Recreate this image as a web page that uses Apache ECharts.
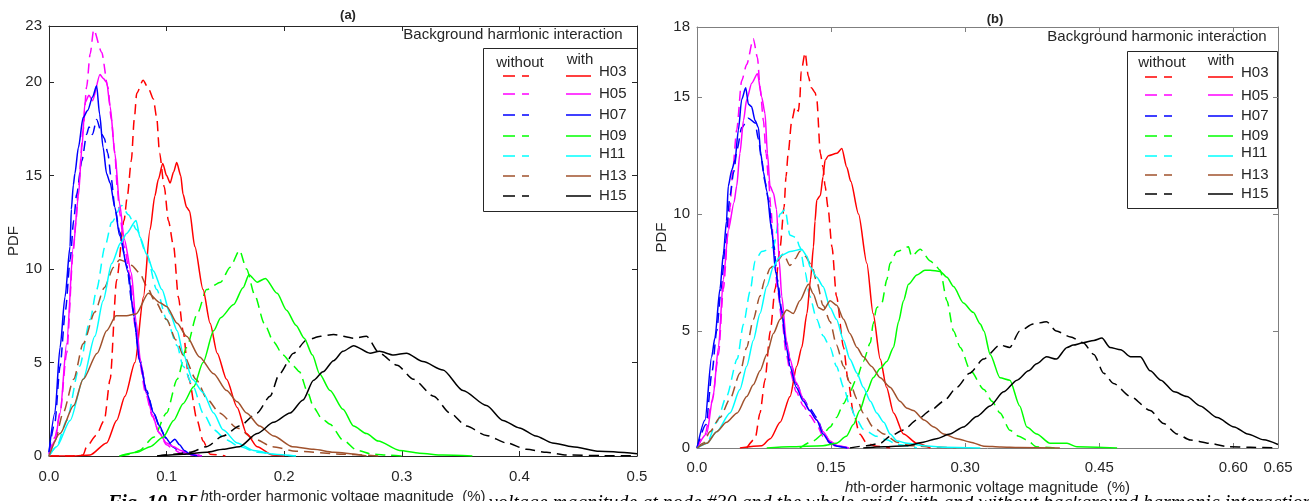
<!DOCTYPE html>
<html><head><meta charset="utf-8">
<script src="https://cdn.jsdelivr.net/npm/echarts@6/dist/echarts.min.js"></script>
<style>html,body{margin:0;padding:0;background:#fff}#c{width:1309px;height:501px}</style>
</head><body><div id="c"></div>
<script>
// ---------- tick/category info ----------
const harmonics = ['H03','H05','H07','H09','H11','H13','H15'];
const colors = ['#ff0000','#ff00ff','#0000ff','#00ff00','#00ffff','#a0522d','#000000'];

// ---------- Panel (a): [x (%), PDF] ----------
const a_H03_without = [[0,0],[0.02,0],[0.029,0.05],[0.032,0.5],[0.04,1.1],[0.047,1.9],[0.052,4.1],[0.0575,9.4],[0.0638,12.6],[0.0666,13.9],[0.070,15.8],[0.0725,18.0],[0.0746,19.4],[0.080,20.1],[0.085,19.6],[0.0887,19.1],[0.0916,18.1],[0.094,16.2],[0.098,14.4],[0.1015,12.6],[0.106,11.2],[0.110,8.5],[0.114,6.7],[0.119,4.1],[0.126,1.9],[0.131,0.8],[0.137,0.1],[0.15,0]];
const a_H03_with = [[0,0],[0.02,0],[0.035,0.06],[0.049,0.7],[0.0575,1.9],[0.0646,3.2],[0.0731,5.0],[0.0803,8.5],[0.0859,12.1],[0.090,13.9],[0.093,14.8],[0.0967,15.65],[0.100,15.0],[0.103,14.6],[0.106,15.2],[0.1086,15.7],[0.112,15.0],[0.114,14.0],[0.117,13.3],[0.1195,13.1],[0.124,11.2],[0.131,8.9],[0.137,7.1],[0.143,5.5],[0.151,4.1],[0.160,2.6],[0.168,1.2],[0.177,0.5],[0.19,0.05],[0.2,0]];
const a_H05_without = [[0,0.1],[0.005,1.0],[0.0094,2.3],[0.015,5.5],[0.0207,11.0],[0.023,12.6],[0.025,14.4],[0.029,17.4],[0.032,19.75],[0.035,21.5],[0.038,22.8],[0.0448,21.6],[0.050,19.75],[0.053,18.0],[0.056,16.2],[0.058,14.4],[0.060,13.0],[0.064,11.2],[0.069,9.6],[0.073,7.0],[0.077,5.0],[0.082,3.4],[0.088,2.1],[0.094,1.2],[0.100,0.6],[0.106,0.35],[0.112,0.15],[0.12,0.05],[0.13,0]];
const a_H05_with = [[0,0.1],[0.005,0.8],[0.0094,2.3],[0.015,6.0],[0.0207,11.2],[0.025,13.9],[0.028,16.5],[0.0306,18.9],[0.034,19.3],[0.037,19.0],[0.0434,20.4],[0.046,20.2],[0.049,20.0],[0.052,18.7],[0.056,16.2],[0.060,13.5],[0.064,11.6],[0.070,9.8],[0.074,7.2],[0.078,5.0],[0.083,3.3],[0.088,2.2],[0.093,1.3],[0.100,0.7],[0.106,0.5],[0.112,0.3],[0.12,0.1],[0.13,0]];
const a_H07_without = [[0,0.2],[0.005,1.8],[0.0094,4.8],[0.014,7.8],[0.018,10.5],[0.021,12.6],[0.0235,14.0],[0.028,15.8],[0.032,17.2],[0.034,17.6],[0.037,17.2],[0.0405,18.0],[0.045,17.2],[0.047,17.0],[0.050,16.2],[0.053,14.8],[0.056,13.3],[0.060,12.0],[0.066,10.2],[0.071,8.0],[0.077,5.2],[0.083,3.5],[0.089,2.3],[0.095,1.4],[0.100,0.9],[0.105,0.5],[0.110,0.3],[0.12,0.1],[0.13,0]];
const a_H07_with = [[0,0.2],[0.005,2.3],[0.0094,5.8],[0.0136,8.5],[0.0179,11.2],[0.019,13.2],[0.0207,14.5],[0.022,15.1],[0.025,16.5],[0.029,18.1],[0.033,18.5],[0.037,19.2],[0.0405,19.8],[0.043,18.3],[0.046,16.5],[0.049,15.1],[0.052,14.6],[0.056,13.3],[0.060,11.8],[0.0675,9.8],[0.072,7.5],[0.0774,5.0],[0.083,3.4],[0.089,2.3],[0.094,1.6],[0.099,1.0],[0.103,0.7],[0.107,0.9],[0.111,0.6],[0.115,0.3],[0.12,0.1],[0.126,0]];
const a_H09_without = [[0.06,0],[0.07,0.1],[0.077,0.3],[0.089,1.0],[0.100,2.3],[0.109,4.1],[0.117,5.8],[0.126,7.6],[0.134,8.9],[0.146,9.3],[0.154,10.1],[0.162,11.0],[0.168,10.0],[0.175,8.6],[0.183,7.1],[0.191,6.1],[0.199,5.4],[0.208,4.8],[0.213,4.5],[0.220,3.4],[0.225,2.6],[0.232,2.0],[0.239,1.7],[0.250,0.85],[0.262,0.3],[0.275,0.1],[0.29,0.04],[0.3,0]];
const a_H09_with = [[0.06,0],[0.075,0.2],[0.086,0.5],[0.097,1.0],[0.106,1.9],[0.114,2.8],[0.123,3.7],[0.131,5.0],[0.140,6.7],[0.146,7.4],[0.157,8.1],[0.165,9.0],[0.170,9.7],[0.177,9.3],[0.184,9.5],[0.194,8.7],[0.202,7.8],[0.210,7.0],[0.217,6.3],[0.224,5.4],[0.230,4.4],[0.239,3.5],[0.250,2.5],[0.259,1.6],[0.270,1.2],[0.280,0.8],[0.298,0.3],[0.315,0.15],[0.335,0.05],[0.36,0]];
const a_H11_without = [[0,0],[0.0065,0.5],[0.015,1.9],[0.026,4.8],[0.035,7.3],[0.0405,8.9],[0.0476,11.2],[0.0533,12.5],[0.0618,13.4],[0.0675,12.9],[0.0746,12.1],[0.083,10.8],[0.0916,8.9],[0.100,7.3],[0.109,5.9],[0.114,4.8],[0.1227,3.7],[0.131,2.3],[0.140,1.4],[0.151,0.86],[0.162,0.5],[0.177,0.2],[0.196,0.05],[0.21,0]];
const a_H11_with = [[0,0],[0.0065,0.5],[0.018,1.9],[0.029,4.1],[0.039,6.4],[0.046,8.3],[0.0533,10.3],[0.061,11.4],[0.066,11.9],[0.074,12.6],[0.0774,11.7],[0.083,10.8],[0.0888,9.9],[0.096,8.9],[0.103,7.6],[0.109,6.7],[0.114,5.5],[0.122,4.1],[0.131,3.4],[0.140,2.3],[0.148,1.4],[0.160,0.7],[0.174,0.3],[0.191,0.1],[0.21,0]];
const a_H13_without = [[0,0],[0.005,0.8],[0.012,2.3],[0.021,4.1],[0.029,6.0],[0.039,7.7],[0.047,9.0],[0.055,10.1],[0.060,10.5],[0.065,10.4],[0.070,10.2],[0.077,9.8],[0.083,9.1],[0.090,8.3],[0.100,7.3],[0.108,6.2],[0.115,5.3],[0.125,4.1],[0.135,3.0],[0.145,2.3],[0.160,1.5],[0.175,0.9],[0.190,0.5],[0.210,0.25],[0.25,0.1],[0.28,0]];
const a_H13_with = [[0,0],[0.0094,1.2],[0.021,2.7],[0.029,4.1],[0.041,5.5],[0.049,6.7],[0.057,7.5],[0.066,7.5],[0.074,7.6],[0.0845,8.7],[0.0944,8.2],[0.100,8.0],[0.109,7.1],[0.117,6.4],[0.128,5.3],[0.140,4.4],[0.151,3.5],[0.160,2.9],[0.168,2.3],[0.179,1.6],[0.191,1.07],[0.207,0.5],[0.225,0.36],[0.242,0.2],[0.27,0]];
const a_H15_without = [[0.092,0],[0.106,0.1],[0.120,0.2],[0.134,0.5],[0.148,1.07],[0.162,1.6],[0.177,2.3],[0.188,3.2],[0.196,4.4],[0.208,5.5],[0.219,6.2],[0.231,6.4],[0.242,6.5],[0.259,6.3],[0.270,6.4],[0.281,5.5],[0.296,4.85],[0.310,4.1],[0.327,3.2],[0.341,2.3],[0.355,1.6],[0.372,1.1],[0.389,0.7],[0.406,0.36],[0.423,0.2],[0.440,0.05],[0.47,0.02],[0.5,0.02]];
const a_H15_with = [[0.092,0],[0.114,0.1],[0.134,0.2],[0.148,0.36],[0.162,0.5],[0.177,1.2],[0.191,1.8],[0.205,2.3],[0.216,3.0],[0.225,4.05],[0.233,4.5],[0.242,5.1],[0.250,5.6],[0.259,5.9],[0.273,5.5],[0.281,5.6],[0.293,5.4],[0.304,5.5],[0.318,5.05],[0.335,4.6],[0.352,3.5],[0.372,2.7],[0.386,1.9],[0.400,1.5],[0.414,1.07],[0.428,0.7],[0.445,0.5],[0.468,0.25],[0.5,0.12]];

// ---------- Panel (b) ----------
const b_H03_without = [[0.0556,0],[0.065,0.4],[0.0705,1.5],[0.076,2.9],[0.082,5.0],[0.0874,6.8],[0.093,8.6],[0.0974,10.3],[0.0996,11.6],[0.102,12.6],[0.106,14.0],[0.110,14.6],[0.1135,14.4],[0.115,14.9],[0.1165,16.1],[0.121,16.9],[0.1245,15.9],[0.128,15.4],[0.1321,15.2],[0.134,14.9],[0.138,12.6],[0.141,12.0],[0.1433,11.2],[0.1465,10.3],[0.151,8.6],[0.156,6.5],[0.164,4.3],[0.169,2.9],[0.175,1.5],[0.182,0.6],[0.190,0.2],[0.201,0.07],[0.216,0]];
const b_H03_with = [[0.048,0],[0.0724,0.1],[0.082,0.4],[0.093,1.1],[0.1041,2.2],[0.1116,3.5],[0.1172,4.3],[0.123,5.75],[0.127,7.2],[0.1303,8.6],[0.132,9.7],[0.134,10.6],[0.138,10.8],[0.141,11.6],[0.1433,12.3],[0.147,12.5],[0.1565,12.6],[0.162,12.8],[0.1676,12.0],[0.172,11.4],[0.1807,10.0],[0.190,7.9],[0.197,5.75],[0.205,3.8],[0.212,2.6],[0.220,1.5],[0.231,0.6],[0.246,0.2],[0.261,0]];
const b_H05_without = [[0,0],[0.009,0.6],[0.017,2.0],[0.024,4.0],[0.0295,6.8],[0.035,9.3],[0.037,10.3],[0.040,11.9],[0.0444,13.6],[0.050,15.7],[0.0556,16.4],[0.063,17.5],[0.0676,16.7],[0.0706,15.4],[0.0743,14.0],[0.0773,12.6],[0.080,11.5],[0.0825,10.3],[0.086,8.5],[0.090,6.8],[0.0948,5.5],[0.100,4.0],[0.104,3.3],[0.111,2.4],[0.119,1.8],[0.126,1.4],[0.134,1.0],[0.141,0.5],[0.149,0.2],[0.157,0.05],[0.17,0]];
const b_H05_with = [[0,0],[0.0108,0.6],[0.018,2.2],[0.024,4.3],[0.0295,7.2],[0.035,9.3],[0.0414,10.5],[0.0444,11.2],[0.048,12.6],[0.052,14.0],[0.0556,14.9],[0.0612,15.6],[0.0676,16.0],[0.0724,15.0],[0.0761,14.3],[0.0788,12.6],[0.0817,11.2],[0.0855,10.9],[0.089,10.2],[0.092,8.0],[0.0948,6.5],[0.100,4.6],[0.104,3.8],[0.111,2.8],[0.119,2.1],[0.126,1.6],[0.134,1.2],[0.141,0.7],[0.149,0.3],[0.157,0.1],[0.17,0]];
const b_H07_without = [[0,0],[0.010,1.0],[0.017,3.3],[0.022,5.0],[0.027,6.8],[0.032,8.8],[0.037,10.8],[0.041,11.8],[0.045,12.8],[0.050,13.7],[0.0575,14.1],[0.065,13.9],[0.0687,13.2],[0.0724,12.3],[0.076,11.4],[0.080,10.6],[0.085,9.0],[0.090,7.2],[0.0948,5.9],[0.100,4.5],[0.105,3.6],[0.112,2.7],[0.119,2.1],[0.126,1.7],[0.134,1.3],[0.141,0.7],[0.149,0.25],[0.157,0.08],[0.17,0]];
const b_H07_with = [[0,0],[0.009,1.2],[0.0164,3.9],[0.020,4.7],[0.0257,6.8],[0.0295,8.3],[0.033,9.7],[0.035,11.2],[0.039,11.9],[0.0425,12.3],[0.0463,13.6],[0.050,14.9],[0.0545,15.4],[0.0575,14.7],[0.061,14.6],[0.065,14.0],[0.0687,13.7],[0.0713,12.6],[0.0743,11.8],[0.078,11.0],[0.0836,9.3],[0.088,7.5],[0.0948,5.8],[0.100,4.3],[0.104,3.5],[0.111,2.6],[0.119,2.0],[0.126,1.6],[0.134,1.2],[0.141,0.6],[0.149,0.2],[0.157,0.07],[0.168,0]];
const b_H09_without = [[0.115,0],[0.130,0.3],[0.141,0.6],[0.149,0.9],[0.156,1.3],[0.164,1.9],[0.171,2.4],[0.179,3.0],[0.186,3.7],[0.194,4.5],[0.197,5.3],[0.201,6.0],[0.2068,6.2],[0.2124,7.2],[0.216,7.9],[0.2236,8.4],[0.2366,8.6],[0.240,8.2],[0.2497,8.5],[0.2609,8.0],[0.2646,7.9],[0.272,7.6],[0.2796,6.3],[0.287,5.0],[0.2945,4.3],[0.306,3.3],[0.321,2.5],[0.330,2.0],[0.339,1.5],[0.350,0.76],[0.360,0.5],[0.369,0.34],[0.380,0.05],[0.4,0]];
const b_H09_with = [[0.078,0],[0.104,0.05],[0.141,0.1],[0.156,0.2],[0.167,0.5],[0.175,1.0],[0.182,1.6],[0.190,2.4],[0.197,3.0],[0.205,3.4],[0.2124,3.7],[0.2198,4.3],[0.2255,5.4],[0.231,6.3],[0.2366,7.0],[0.246,7.4],[0.255,7.6],[0.261,7.6],[0.272,7.55],[0.2796,7.3],[0.287,6.9],[0.298,6.2],[0.309,5.8],[0.317,5.3],[0.321,5.0],[0.328,4.0],[0.339,3.0],[0.350,2.9],[0.361,1.8],[0.369,0.9],[0.380,0.6],[0.395,0.2],[0.414,0.2],[0.425,0.05],[0.47,0]];
const b_H11_without = [[0,0],[0.011,0.2],[0.022,1.1],[0.033,2.2],[0.045,3.8],[0.052,5.3],[0.0594,6.7],[0.065,8.0],[0.0724,8.4],[0.082,8.5],[0.0855,8.6],[0.093,10.0],[0.0985,10.2],[0.104,9.1],[0.111,9.0],[0.115,8.6],[0.121,7.5],[0.126,6.5],[0.134,5.5],[0.141,4.8],[0.149,4.3],[0.156,3.5],[0.164,2.6],[0.171,1.8],[0.179,1.2],[0.186,0.8],[0.201,0.5],[0.212,0.35],[0.224,0.15],[0.246,0]];
const b_H11_with = [[0,0],[0.011,0.2],[0.022,0.7],[0.037,1.5],[0.048,2.5],[0.0556,3.5],[0.063,4.6],[0.0705,5.75],[0.078,6.9],[0.0855,7.75],[0.091,8.1],[0.0948,8.25],[0.1041,8.4],[0.117,8.5],[0.123,8.2],[0.1265,7.75],[0.134,7.3],[0.141,6.9],[0.149,6.0],[0.156,5.5],[0.164,4.6],[0.171,3.8],[0.179,3.2],[0.186,2.6],[0.194,2.0],[0.201,1.5],[0.209,1.1],[0.216,0.6],[0.224,0.3],[0.235,0.2],[0.254,0.1],[0.276,0.03],[0.317,0]];
const b_H13_without = [[0,0],[0.007,0.2],[0.0145,0.7],[0.0257,1.3],[0.037,2.1],[0.048,3.2],[0.0556,4.3],[0.063,5.5],[0.0705,6.5],[0.076,7.2],[0.082,7.7],[0.090,8.0],[0.0967,8.3],[0.104,7.8],[0.110,8.1],[0.115,8.4],[0.121,8.2],[0.1284,7.8],[0.134,7.1],[0.141,6.1],[0.149,5.4],[0.156,4.4],[0.164,3.5],[0.171,2.8],[0.179,2.1],[0.186,1.5],[0.197,0.9],[0.209,0.6],[0.224,0.25],[0.239,0.1],[0.261,0.05],[0.29,0]];
const b_H13_with = [[0,0],[0.011,0.2],[0.022,0.7],[0.033,1.1],[0.045,1.5],[0.0556,2.2],[0.063,2.7],[0.0705,3.3],[0.078,4.0],[0.0855,4.9],[0.093,5.5],[0.1004,5.9],[0.1078,5.75],[0.115,6.3],[0.1247,7.0],[0.130,6.6],[0.136,6.0],[0.1415,5.9],[0.149,6.3],[0.1563,6.1],[0.164,5.5],[0.171,4.9],[0.179,4.3],[0.186,3.9],[0.195,3.5],[0.205,3.0],[0.216,2.6],[0.227,2.0],[0.235,1.7],[0.242,1.6],[0.254,1.2],[0.265,0.9],[0.276,0.6],[0.291,0.4],[0.306,0.25],[0.321,0.08],[0.340,0.04],[0.360,0.02],[0.406,0]];
const b_H15_without = [[0.171,0],[0.190,0.1],[0.205,0.2],[0.216,0.5],[0.231,0.77],[0.246,1.2],[0.2613,1.6],[0.276,2.0],[0.291,2.6],[0.305,3.2],[0.3206,3.8],[0.339,4.4],[0.350,4.3],[0.361,5.0],[0.376,5.3],[0.391,5.4],[0.402,5.0],[0.418,4.75],[0.432,4.5],[0.444,4.0],[0.455,3.2],[0.466,2.76],[0.485,2.2],[0.507,1.6],[0.522,1.05],[0.537,0.6],[0.552,0.34],[0.574,0.2],[0.593,0.06],[0.619,0.03],[0.65,0]];
const b_H15_with = [[0.186,0],[0.209,0.05],[0.235,0.1],[0.253,0.25],[0.268,0.4],[0.283,0.6],[0.298,0.9],[0.313,1.35],[0.328,1.8],[0.343,2.4],[0.358,2.9],[0.371,3.3],[0.380,3.6],[0.391,3.9],[0.402,3.8],[0.414,4.3],[0.421,4.4],[0.432,4.5],[0.444,4.6],[0.453,4.7],[0.462,4.3],[0.474,4.2],[0.485,3.9],[0.496,3.9],[0.507,3.3],[0.519,2.9],[0.534,2.4],[0.548,2.2],[0.563,1.8],[0.582,1.3],[0.601,0.9],[0.616,0.6],[0.634,0.35],[0.65,0.15]];

const panelA_without = [a_H03_without,a_H05_without,a_H07_without,a_H09_without,a_H11_without,a_H13_without,a_H15_without];
const panelA_with = [a_H03_with,a_H05_with,a_H07_with,a_H09_with,a_H11_with,a_H13_with,a_H15_with];
const panelB_without = [b_H03_without,b_H05_without,b_H07_without,b_H09_without,b_H11_without,b_H13_without,b_H15_without];
const panelB_with = [b_H03_with,b_H05_with,b_H07_with,b_H09_with,b_H11_with,b_H13_with,b_H15_with];

const FONT = '"Liberation Sans", Arial, sans-serif';
const TXT = '#262626';
const axA = '#262626', axB = '#7f7f7f';
const dashPat = [10, 6];

function xAx(grid, max, interval, color, fmt, margin, gap, main){
  return {
    gridIndex: grid, type: 'value', min: 0, max: max, interval: interval,
    position: main ? 'bottom' : 'top',
    axisLine: {show: true, onZero: false, lineStyle: {color: color, width: 1}},
    axisTick: {show: true, inside: true, length: 5, lineStyle: {color: color}},
    axisLabel: {show: main, formatter: fmt, color: TXT, fontSize: 15, fontFamily: FONT, margin: margin},
    splitLine: {show: false},
    name: main ? '{i|h}th-order harmonic voltage magnitude  (%)' : '',
    nameLocation: 'middle', nameGap: gap,
    nameTextStyle: {color: TXT, fontSize: 15, fontFamily: FONT, backgroundColor: '#fff', padding: [0, 3, 1, 3],
      rich: {i: {fontStyle: 'italic', fontSize: 15, fontFamily: FONT, color: TXT}}}
  };
}
function yAx(grid, max, color, gap, main){
  return {
    gridIndex: grid, type: 'value', min: 0, max: max, interval: 5,
    position: main ? 'left' : 'right',
    axisLine: {show: true, onZero: false, lineStyle: {color: color, width: 1}},
    axisTick: {show: true, inside: true, length: 5, lineStyle: {color: color}},
    axisLabel: {show: main, color: TXT, fontSize: 15, fontFamily: FONT, margin: 7},
    splitLine: {show: false},
    name: main ? 'PDF' : '', nameLocation: 'middle', nameGap: gap, nameRotate: 90,
    nameTextStyle: {color: TXT, fontSize: 15, fontFamily: FONT}
  };
}

const series = [];
function add(list, dashed, xi, yi){
  list.forEach((d, k) => {
    series.push({
      type: 'line', name: harmonics[k] + (dashed ? ' without' : ' with'),
      xAxisIndex: xi, yAxisIndex: yi, data: d,
      showSymbol: false, symbol: 'none', smooth: 0.25, smoothMonotone: 'x',
      silent: true, clip: true,
      lineStyle: {color: colors[k], width: 1.5, type: dashed ? dashPat : 'solid'}
    });
  });
}
add(panelA_without, true, 0, 0);
add(panelA_with, false, 0, 0);
add(panelB_without, true, 2, 2);
add(panelB_with, false, 2, 2);

// legend drawn as graphic (two-column without/with layout)
function legend(box, title, hdr, rows, dashX, solidX, labelX, labelDy){
  const els = [];
  els.push({type: 'text', style: {text: title.text, x: title.x, y: title.y, align: 'center', verticalAlign: 'middle', fontSize: 15, fontFamily: FONT, fill: TXT}});
  els.push({type: 'rect', shape: box, style: {fill: '#fff', stroke: axA, lineWidth: 1}});
  els.push({type: 'text', style: {text: 'without', x: hdr.wo, y: hdr.y1, align: 'center', verticalAlign: 'middle', fontSize: 15, fontFamily: FONT, fill: TXT}});
  els.push({type: 'text', style: {text: 'with', x: hdr.w, y: hdr.y2, align: 'center', verticalAlign: 'middle', fontSize: 15, fontFamily: FONT, fill: TXT}});
  rows.forEach((y, k) => {
    els.push({type: 'line', shape: {x1: dashX[0], y1: y, x2: dashX[1], y2: y}, style: {stroke: colors[k], lineWidth: 1.5, lineDash: [12, 7]}});
    els.push({type: 'line', shape: {x1: solidX[0], y1: y, x2: solidX[1], y2: y}, style: {stroke: colors[k], lineWidth: 1.5}});
    els.push({type: 'text', style: {text: harmonics[k], x: labelX, y: y + (labelDy[k] || 0), align: 'left', verticalAlign: 'middle', fontSize: 15, fontFamily: FONT, fill: TXT}});
  });
  return els;
}

const graphics = [].concat(
  legend({x: 483.5, y: 48.5, width: 154, height: 163}, {text: 'Background harmonic interaction', x: 513, y: 35},
    {wo: 520, w: 580, y1: 63, y2: 60}, [76, 94, 115, 136, 156, 176, 196], [503, 529], [566, 591], 599, [-4, 0, 0, 0, -2, 0, 0]),
  legend({x: 1127.5, y: 51.5, width: 150, height: 157}, {text: 'Background harmonic interaction', x: 1157, y: 37},
    {wo: 1162, w: 1221, y1: 63, y2: 61}, [77, 95, 116, 136, 156, 175, 194], [1145, 1172], [1208, 1233], 1241, [-4, 1, 0, 0, -3, 0, 0]),
  [{type: 'text', z: -10, zlevel: 0, style: {
    text: '{b|Fig. 10.} {n|PDF curves of the }{n|h}{n|th-order harmonic voltage magnitude at node #30 and the whole grid (with and without background harmonic interaction)}',
    x: 108, y: 494, align: 'left', verticalAlign: 'top',
    rich: {
      b: {fontSize: 20, fontWeight: 'bold', fontStyle: 'italic', fontFamily: '"Liberation Serif", "Times New Roman", serif', fill: '#000'},
      n: {fontSize: 20, fontStyle: 'italic', fontFamily: '"Liberation Serif", "Times New Roman", serif', fill: '#000'}
    }
  }}]
);

const chart = echarts.init(document.getElementById('c'), null, {renderer: 'canvas'});
chart.setOption({
  animation: false,
  backgroundColor: '#fff',
  title: [
    {text: '(a)', left: 343, top: 4, textAlign: 'center', textStyle: {fontSize: 13, fontWeight: 'bold', fontFamily: FONT, color: TXT}},
    {text: '(b)', left: 990, top: 8, textAlign: 'center', textStyle: {fontSize: 13, fontWeight: 'bold', fontFamily: FONT, color: TXT}}
  ],
  grid: [
    {left: 49, top: 26, width: 588, height: 430, containLabel: false, outerBoundsMode: 'none'},
    {left: 697, top: 27, width: 581, height: 421, containLabel: false, outerBoundsMode: 'none'}
  ],
  xAxis: [
    xAx(0, 0.5, 0.1, axA, v => v.toFixed(1), 13, 22, true),
    xAx(0, 0.5, 0.1, axA, null, 8, 0, false),
    xAx(1, 0.65, 0.15, axB, v => (v === 0 ? '0.0' : v.toFixed(2)), 12, 23, true),
    xAx(1, 0.65, 0.15, axB, null, 8, 0, false)
  ],
  yAxis: [
    yAx(0, 23, axA, 23, true),
    yAx(0, 23, axA, 0, false),
    yAx(1, 18, axB, 28, true),
    yAx(1, 18, axB, 0, false)
  ],
  series: series,
  graphic: graphics
});
</script></body></html>
